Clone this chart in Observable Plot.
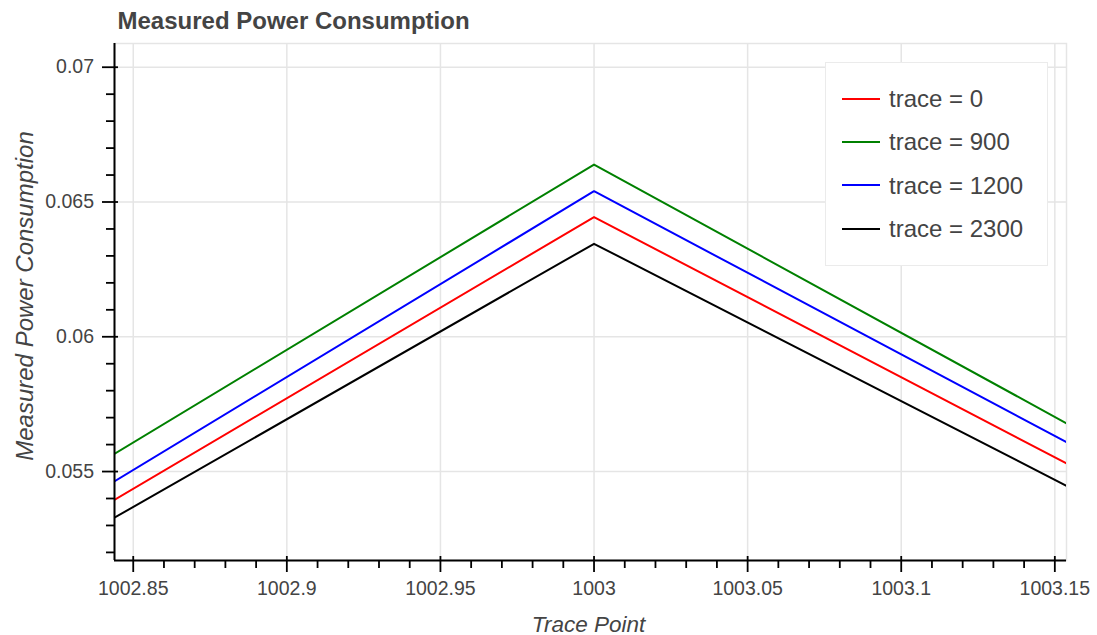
<!DOCTYPE html>
<html>
<head>
<meta charset="utf-8">
<script src="https://cdn.jsdelivr.net/npm/d3@7"></script>
<script src="https://cdn.jsdelivr.net/npm/@observablehq/plot@0.6"></script>
<style>
  body { margin: 0; background: #fff; }
  #chart { position: relative; width: 1097px; height: 635px; font-family: "Liberation Sans", Arial, Helvetica, sans-serif; }
  #legend {
    position: absolute; left: 825px; top: 62px; width: 223px; height: 204px;
    background: #fff; border: 1px solid #ebebeb; box-sizing: border-box; padding-top: 14px;
  }
  .row { display: flex; align-items: center; height: 43.3px; }
  .swatch { width: 38px; height: 2px; margin-left: 16px; margin-right: 9px; }
  .lab { font-size: 24px; color: #444; line-height: 43px; white-space: nowrap; }
</style>
</head>
<body>
<div id="chart"></div>
<script>
// Power samples at three trace points, one series per trace
const tracePoints = [1002, 1003, 1004];
const traces = [0, 900, 1200, 2300];
const traceColors = ["#ff0000", "#008000", "#0000ff", "#000000"];
const power0    = [-0.00276, 0.06444, 0.00501];
const power900  = [-0.00235, 0.06639, 0.00397];
const power1200 = [-0.00353, 0.06540, 0.00487];
const power2300 = [-0.00164, 0.06345, 0.00506];

// Axis ticks and labels
const xTicks = [1002.85, 1002.9, 1002.95, 1003, 1003.05, 1003.1, 1003.15];
const yTicks = [0.055, 0.06, 0.065, 0.07];
const xMinor = d3.range(100285, 100316).filter(i => i % 5 !== 0).map(i => i / 100);
const yMinor = d3.range(52, 71).filter(i => i % 5 !== 0).map(i => i / 1000);
const xDomain = [1002.8439, 1003.1538];
const yDomain = [0.0517, 0.07088];

const title = "Measured Power Consumption";
const xLabel = "Trace Point";
const yLabel = "Measured Power Consumption";

const seriesValues = [power0, power900, power1200, power2300];
const rows = traces.flatMap((t, k) =>
  tracePoints.map((p, i) => ({trace: t, point: p, power: seriesValues[k][i]}))
);

const W = 1097, H = 635;
const mL = 114, mR = 31, mT = 43, mB = 75;
const frameW = W - mL - mR, frameH = H - mT - mB;
const grid = "#e5e5e5";

const chart = Plot.plot({
  width: W,
  height: H,
  marginLeft: mL,
  marginRight: mR,
  marginTop: mT,
  marginBottom: mB,
  style: {fontFamily: '"Liberation Sans", Arial, Helvetica, sans-serif', color: "#444", background: "#fff"},
  x: {domain: xDomain},
  y: {domain: yDomain},
  color: {type: "ordinal", domain: traces, range: traceColors},
  marks: [
    Plot.frame({stroke: grid, strokeWidth: 1.5}),
    Plot.gridX(xTicks, {stroke: grid, strokeOpacity: 1, strokeWidth: 1.5}),
    Plot.gridY(yTicks, {stroke: grid, strokeOpacity: 1, strokeWidth: 1.5}),
    Plot.line(rows, {x: "point", y: "power", z: "trace", stroke: "trace", strokeWidth: 2, clip: true}),
    // axis lines
    Plot.ruleX([xDomain[0]], {stroke: "#000", strokeWidth: 2}),
    Plot.ruleY([yDomain[0]], {stroke: "#000", strokeWidth: 2}),
    // major ticks cross the axis, minor ticks point outward
    Plot.tickX(xTicks, {x: d => d, stroke: "#000", strokeWidth: 1.8, insetTop: frameH - 4, insetBottom: -12}),
    Plot.tickX(xMinor, {x: d => d, stroke: "#000", strokeWidth: 1.8, insetTop: frameH, insetBottom: -8}),
    Plot.tickY(yTicks, {y: d => d, stroke: "#000", strokeWidth: 1.8, insetRight: frameW - 4, insetLeft: -12}),
    Plot.tickY(yMinor, {y: d => d, stroke: "#000", strokeWidth: 1.8, insetRight: frameW, insetLeft: -8}),
    Plot.axisX({ticks: xTicks, tickSize: 0, tickPadding: 20.7, tickFormat: d => String(d), fontSize: 19.5, fill: "#444", label: null}),
    Plot.axisY({ticks: yTicks, tickSize: 0, tickPadding: 20.5, tickFormat: d => String(d), fontSize: 19.5, fill: "#444", label: null}),
    Plot.text([title], {text: d => d, frameAnchor: "top-left", dx: 3, dy: -15, lineAnchor: "bottom", textAnchor: "start", fontSize: 24, fontWeight: "bold", fill: "#444"}),
    Plot.text([xLabel], {text: d => d, frameAnchor: "bottom", dx: -2, dy: 71, lineAnchor: "bottom", textAnchor: "middle", fontSize: 22.5, fontStyle: "italic", fill: "#444"}),
    Plot.text([yLabel], {text: d => d, frameAnchor: "left", dx: -82, dy: -6, rotate: -90, lineAnchor: "bottom", textAnchor: "middle", fontSize: 24, fontStyle: "italic", fill: "#444"})
  ]
});

const root = document.getElementById("chart");
root.appendChild(chart);

// Legend box in the upper right of the plot area
const legend = document.createElement("div");
legend.id = "legend";
traces.forEach((t, k) => {
  const row = document.createElement("div");
  row.className = "row";
  const sw = document.createElement("span");
  sw.className = "swatch";
  sw.style.background = traceColors[k];
  const lab = document.createElement("span");
  lab.className = "lab";
  lab.textContent = `trace = ${t}`;
  row.appendChild(sw);
  row.appendChild(lab);
  legend.appendChild(row);
});
root.appendChild(legend);
</script>
</body>
</html>
